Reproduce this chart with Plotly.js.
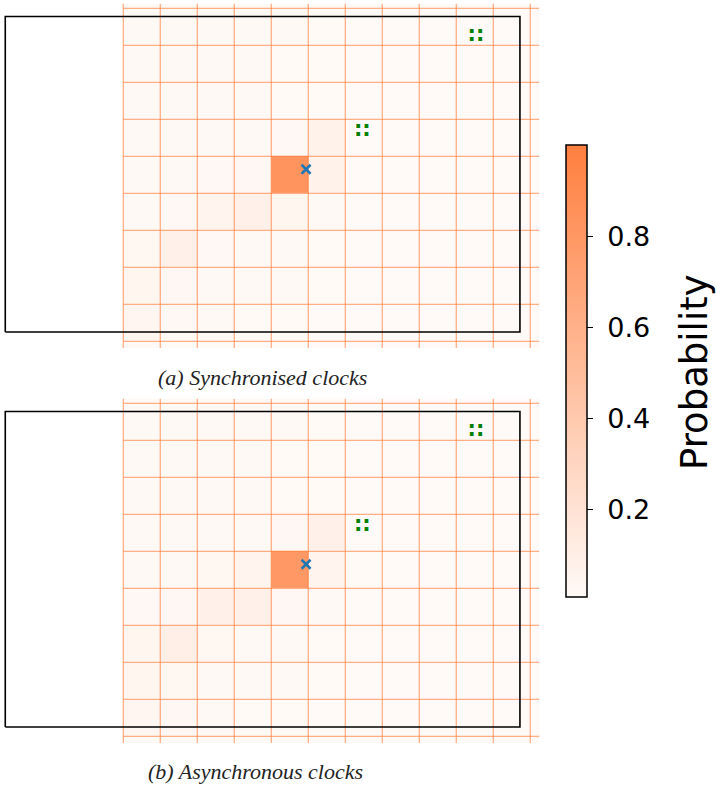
<!DOCTYPE html>
<html>
<head>
<meta charset="utf-8">
<script src="https://cdn.plot.ly/plotly-3.0.1.min.js"></script>
<style>
  html, body { margin: 0; padding: 0; background: #fff; }
  #chart { width: 716px; height: 785px; }
</style>
</head>
<body>
<div id="chart"></div>
<script>
// Cell edges of the localisation grid (grid units)
const xEdges = [0, 1, 2, 3, 4, 5, 6, 7, 8, 9, 10, 11, 11.24];
const yEdges = [-0.18, 0, 1, 2, 3, 4, 5, 6, 7, 8, 9, 9.12];

// Grid lines drawn over the cells
const gridXs = [0, 1, 2, 3, 4, 5, 6, 7, 8, 9, 10, 11];
const gridYs = [0, 1, 2, 3, 4, 5, 6, 7, 8, 9];

// Room outline
const roomX = [-3.19, 10.72];
const roomY = [0.25, 8.78];

// True position (x) and anchor positions (::)
const targetX = [4.94];
const targetY = [4.65];
const anchorX = [6.46, 9.53];
const anchorY = [5.69, 8.25];

// Probability per cell, rows listed bottom to top
const probSync = [
  [0.015, 0.013, 0.012, 0.012, 0.012, 0.011, 0.010, 0.010, 0.010, 0.010, 0.010, 0.010],
  [0.040, 0.022, 0.014, 0.013, 0.012, 0.011, 0.010, 0.010, 0.010, 0.010, 0.010, 0.010],
  [0.045, 0.030, 0.016, 0.015, 0.015, 0.012, 0.010, 0.010, 0.010, 0.010, 0.010, 0.010],
  [0.035, 0.085, 0.025, 0.016, 0.015, 0.012, 0.010, 0.010, 0.010, 0.010, 0.010, 0.010],
  [0.020, 0.025, 0.055, 0.085, 0.045, 0.015, 0.010, 0.010, 0.010, 0.010, 0.010, 0.010],
  [0.015, 0.015, 0.022, 0.030, 0.830, 0.075, 0.010, 0.010, 0.010, 0.010, 0.010, 0.010],
  [0.015, 0.015, 0.015, 0.016, 0.025, 0.075, 0.010, 0.010, 0.010, 0.010, 0.010, 0.010],
  [0.016, 0.015, 0.015, 0.014, 0.013, 0.012, 0.010, 0.010, 0.010, 0.010, 0.010, 0.010],
  [0.016, 0.015, 0.015, 0.014, 0.013, 0.012, 0.010, 0.010, 0.010, 0.010, 0.010, 0.010],
  [0.020, 0.020, 0.020, 0.018, 0.014, 0.012, 0.011, 0.011, 0.011, 0.011, 0.010, 0.010],
  [0.018, 0.018, 0.018, 0.016, 0.014, 0.012, 0.011, 0.011, 0.011, 0.011, 0.010, 0.010]
];

const probAsync = [
  [0.016, 0.014, 0.012, 0.012, 0.012, 0.011, 0.010, 0.010, 0.010, 0.010, 0.010, 0.010],
  [0.040, 0.030, 0.014, 0.013, 0.012, 0.011, 0.010, 0.010, 0.010, 0.010, 0.010, 0.010],
  [0.045, 0.035, 0.016, 0.015, 0.014, 0.012, 0.010, 0.010, 0.010, 0.010, 0.010, 0.010],
  [0.045, 0.100, 0.035, 0.016, 0.015, 0.012, 0.010, 0.010, 0.010, 0.010, 0.010, 0.010],
  [0.025, 0.030, 0.080, 0.085, 0.030, 0.015, 0.010, 0.010, 0.010, 0.010, 0.010, 0.010],
  [0.015, 0.020, 0.035, 0.060, 0.800, 0.060, 0.012, 0.010, 0.010, 0.010, 0.010, 0.010],
  [0.015, 0.015, 0.015, 0.016, 0.030, 0.080, 0.010, 0.010, 0.010, 0.010, 0.010, 0.010],
  [0.016, 0.015, 0.015, 0.014, 0.013, 0.012, 0.010, 0.010, 0.010, 0.010, 0.010, 0.010],
  [0.016, 0.015, 0.015, 0.014, 0.013, 0.012, 0.010, 0.010, 0.010, 0.010, 0.010, 0.010],
  [0.018, 0.018, 0.017, 0.016, 0.014, 0.012, 0.011, 0.011, 0.011, 0.011, 0.010, 0.010],
  [0.018, 0.018, 0.017, 0.016, 0.014, 0.012, 0.011, 0.011, 0.011, 0.011, 0.010, 0.010]
];

const cbTicks = [0.2, 0.4, 0.6, 0.8];
const cbTickText = ['0.2', '0.4', '0.6', '0.8'];
const cbLabel = 'Probability';
const captions = ['(a) Synchronised clocks', '(b) Asynchronous clocks'];

const zMin = 0.009, zMax = 1.0;
const scale = [[0, '#fffaf7'], [1, '#ff7f3f']];
const W = 716, H = 785;

function gridLines(xa, ya) {
  const x = [], y = [];
  const x0 = xEdges[0], x1 = xEdges[xEdges.length - 1];
  const y0 = yEdges[0], y1 = yEdges[yEdges.length - 1];
  gridXs.forEach(g => { x.push(g, g, null); y.push(y0, y1, null); });
  gridYs.forEach(g => { x.push(x0, x1, null); y.push(g, g, null); });
  return { type: 'scatter', mode: 'lines', x, y, xaxis: xa, yaxis: ya,
    line: { color: 'rgba(255,127,63,0.62)', width: 1.3 }, hoverinfo: 'skip', showlegend: false };
}

function room(xa, ya) {
  return { type: 'scatter', mode: 'lines',
    x: [roomX[0], roomX[1], roomX[1], roomX[0], roomX[0]],
    y: [roomY[0], roomY[0], roomY[1], roomY[1], roomY[0]],
    xaxis: xa, yaxis: ya, line: { color: '#000', width: 1.6 }, showlegend: false };
}

function panel(z, xa, ya, withScale) {
  return [
    { type: 'heatmap', x: xEdges, y: yEdges, z: z, xaxis: xa, yaxis: ya,
      colorscale: scale, zmin: zMin, zmax: zMax, zsmooth: false, showscale: withScale,
      colorbar: {
        x: 566 / W, xanchor: 'left', xpad: 0, ypad: 0,
        y: 1 - 371 / H, yanchor: 'middle',
        len: 452, lenmode: 'pixels', thickness: 21, thicknessmode: 'pixels',
        outlinewidth: 1.5, outlinecolor: '#000',
        tickvals: cbTicks, ticktext: cbTickText.map(t => '\u00a0' + t),
        ticks: 'outside', ticklen: 6, tickwidth: 1.2, tickcolor: '#000',
        tickfont: { family: 'DejaVu Sans', size: 27, color: '#000' }
      } },
    gridLines(xa, ya),
    room(xa, ya),
    { type: 'scatter', mode: 'markers', x: targetX, y: targetY, xaxis: xa, yaxis: ya,
      marker: { symbol: 'x-thin', size: 9, line: { width: 2.5, color: '#1f77b4' }, color: '#1f77b4' },
      showlegend: false },
    { type: 'scatter', mode: 'text', x: anchorX, y: anchorY, xaxis: xa, yaxis: ya,
      text: anchorX.map(() => '<b>::</b>'), textposition: 'middle center',
      textfont: { family: 'DejaVu Sans', size: 21, color: '#008000' }, showlegend: false }
  ];
}

const data = [].concat(panel(probSync, 'x', 'y', true), panel(probAsync, 'x2', 'y2', false));

const xDom = [0, 555 / W];
const xRange = [-123.3 / 37, (555 - 123.3) / 37];
const yRange = [(341.3 - 355) / 37, 341.3 / 37];
const hidden = { visible: false, showgrid: false, zeroline: false, fixedrange: true };

const layout = {
  width: W, height: H,
  margin: { l: 0, r: 0, t: 0, b: 0 },
  paper_bgcolor: '#fff', plot_bgcolor: 'rgba(0,0,0,0)',
  showlegend: false,
  xaxis: Object.assign({ domain: xDom, range: xRange, anchor: 'y' }, hidden),
  yaxis: Object.assign({ domain: [1 - 355 / H, 1], range: yRange, anchor: 'x' }, hidden),
  xaxis2: Object.assign({ domain: xDom, range: xRange, anchor: 'y2' }, hidden),
  yaxis2: Object.assign({ domain: [1 - 750 / H, 1 - 395 / H], range: yRange, anchor: 'x2' }, hidden),
  annotations: [
    { text: '<i>' + captions[0] + '</i>', xref: 'paper', yref: 'paper', x: 262 / W, y: 1 - 377 / H,
      xanchor: 'center', yanchor: 'middle', showarrow: false,
      font: { family: 'Liberation Serif', size: 22, color: '#222' } },
    { text: '<i>' + captions[1] + '</i>', xref: 'paper', yref: 'paper', x: 255 / W, y: 1 - 771 / H,
      xanchor: 'center', yanchor: 'middle', showarrow: false,
      font: { family: 'Liberation Serif', size: 22, color: '#222' } },
    // colour bar label, reading bottom to top
    { text: cbLabel, xref: 'paper', yref: 'paper', x: 694 / W, y: 1 - 372 / H,
      xanchor: 'center', yanchor: 'middle', textangle: -90, showarrow: false,
      font: { family: 'DejaVu Sans', size: 37, color: '#000' } }
  ]
};

Plotly.newPlot('chart', data, layout, { displayModeBar: false, staticPlot: true });
</script>
</body>
</html>
